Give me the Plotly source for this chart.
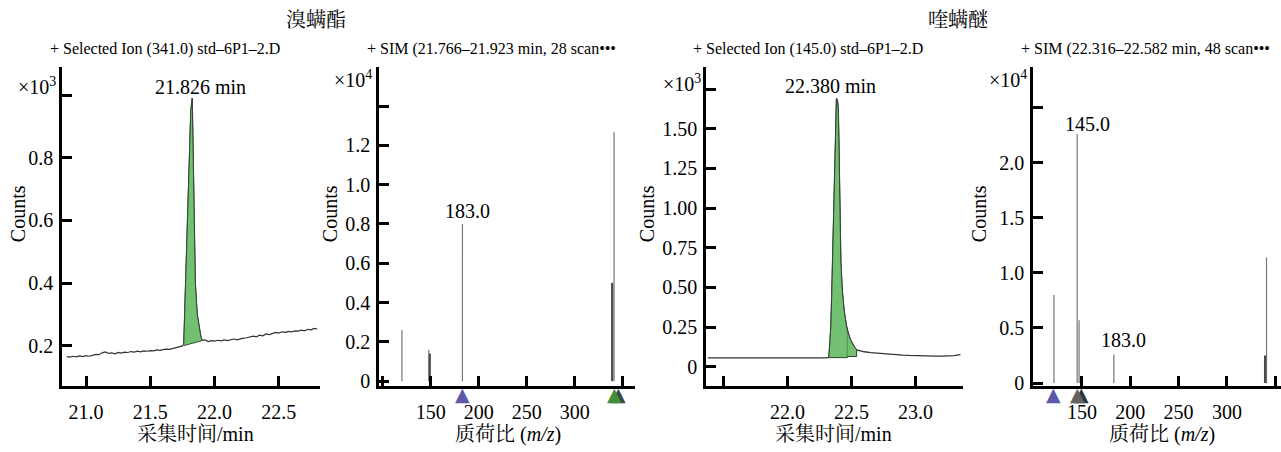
import plotly.graph_objects as go

W, H = 1281, 452

# ---------------- data ----------------
# Panel 1: 溴螨酯, selected ion 341.0 chromatogram (counts x10^3)
t1_pre = [20.850, 20.875, 20.900, 20.925, 20.950, 20.975, 21.000, 21.025, 21.050, 21.075,
          21.100, 21.125, 21.150, 21.175, 21.200, 21.225, 21.250, 21.275, 21.300, 21.325,
          21.350, 21.375, 21.400, 21.425, 21.450, 21.475, 21.500, 21.525, 21.550, 21.575,
          21.600, 21.625, 21.650, 21.675, 21.700, 21.725, 21.750]
c1_pre = [0.166, 0.164, 0.167, 0.165, 0.168, 0.166, 0.169, 0.167, 0.170, 0.173,
          0.172, 0.178, 0.181, 0.176, 0.178, 0.175, 0.179, 0.177, 0.180, 0.179,
          0.182, 0.180, 0.183, 0.181, 0.184, 0.183, 0.185, 0.184, 0.187, 0.186,
          0.188, 0.190, 0.189, 0.192, 0.194, 0.197, 0.200]
t1_peak = [21.760, 21.775, 21.790, 21.800, 21.815, 21.826, 21.835, 21.840, 21.850, 21.865,
           21.880, 21.895, 21.905]
c1_peak = [0.205, 0.400, 0.620, 0.800, 0.950, 0.990, 0.800, 0.600, 0.400, 0.300,
           0.255, 0.225, 0.218]
t1_post = [21.925, 21.950, 21.975, 22.000, 22.025, 22.050, 22.075, 22.100, 22.125, 22.150,
           22.175, 22.200, 22.225, 22.250, 22.275, 22.300, 22.325, 22.350, 22.375, 22.400,
           22.425, 22.450, 22.475, 22.500, 22.525, 22.550, 22.575, 22.600, 22.625, 22.650,
           22.675, 22.700, 22.725, 22.750, 22.775, 22.800]
c1_post = [0.219, 0.214, 0.217, 0.215, 0.218, 0.216, 0.219, 0.217, 0.220, 0.222,
           0.219, 0.223, 0.225, 0.226, 0.228, 0.231, 0.229, 0.234, 0.232, 0.238,
           0.236, 0.240, 0.243, 0.241, 0.245, 0.243, 0.246, 0.245, 0.248, 0.247,
           0.250, 0.248, 0.253, 0.251, 0.256, 0.254]
base1_t = [21.760, 21.905]
base1_c = [0.201, 0.217]

# Panel 2: 溴螨酯 SIM spectrum (counts x10^4)
mz2 = [120.0, 148.0, 149.0, 183.0, 339.0, 341.0]
int2 = [0.26, 0.16, 0.14, 0.80, 0.50, 1.27]
dark2 = [False, False, True, False, True, False]

# Panel 3: 喹螨醚, selected ion 145.0 chromatogram (counts x10^3)
t3_pre = [21.38, 21.45, 21.50, 21.55, 21.60, 21.65, 21.70, 21.75, 21.80, 21.85,
          21.90, 21.95, 22.00, 22.05, 22.10, 22.15, 22.20, 22.25, 22.30]
c3_pre = [0.056, 0.055, 0.056, 0.055, 0.055, 0.056, 0.055, 0.056, 0.055, 0.055,
          0.056, 0.055, 0.055, 0.056, 0.055, 0.055, 0.056, 0.055, 0.056]
t3_peak = [22.323, 22.332, 22.339, 22.346, 22.352, 22.360, 22.368, 22.377, 22.383, 22.390,
           22.397, 22.401, 22.406, 22.412, 22.417, 22.428, 22.443, 22.460, 22.468, 22.477,
           22.492, 22.508, 22.525, 22.540]
c3_peak = [0.058, 0.150, 0.250, 0.450, 0.660, 0.980, 1.280, 1.580, 1.690, 1.680,
           1.620, 1.450, 1.070, 0.850, 0.660, 0.480, 0.350, 0.260, 0.230, 0.206,
           0.170, 0.144, 0.120, 0.106]
t3_post = [22.575, 22.600, 22.650, 22.700, 22.750, 22.800, 22.850, 22.900, 22.950, 23.000,
           23.050, 23.100, 23.150, 23.200, 23.250, 23.300, 23.350]
c3_post = [0.098, 0.094, 0.089, 0.085, 0.081, 0.078, 0.076, 0.073, 0.071, 0.069,
           0.068, 0.067, 0.067, 0.067, 0.068, 0.070, 0.076]
split3 = 22.468
base3a = 0.057
base3b = 0.064

# Panel 4: 喹螨醚 SIM spectrum (counts x10^4)
mz4 = [121.0, 145.0, 147.0, 183.0, 339.5, 341.0]
int4 = [0.80, 2.26, 0.57, 0.26, 0.25, 1.14]
dark4 = [False, False, False, False, True, False]

# markers under the spectra: (m/z, fill colour, shadow colour)
tri2 = [(183.0, "#5a5aa8", None), (341.0, "#3f8f3f", "#444444")]
tri4 = [(121.0, "#5a5aa8", None), (145.0, "#626262", "#333333")]

titles = ["溴螨酯", "喹螨醚"]
subtitles = ["+ Selected Ion (341.0) std–6P1–2.D",
             "+ SIM (21.766–21.923 min, 28 scan•••",
             "+ Selected Ion (145.0) std–6P1–2.D",
             "+ SIM (22.316–22.582 min, 48 scan•••"]

# ---------------- figure ----------------
SERIF = "Liberation Serif, Noto Serif CJK SC, Noto Sans CJK SC, serif"
GREEN = "#72c172"
LINE = "#3a3030"


def px(x):
    return x / W


def py(y):
    return 1 - y / H


fig = go.Figure()

# Panel 1 traces
fig.add_trace(go.Scatter(x=t1_pre + t1_peak + t1_post, y=c1_pre + c1_peak + c1_post,
                         mode="lines", line=dict(color=LINE, width=1.2),
                         xaxis="x", yaxis="y", hoverinfo="skip"))
fig.add_trace(go.Scatter(x=t1_peak + base1_t[::-1], y=c1_peak + base1_c[::-1],
                         mode="lines", fill="toself", fillcolor=GREEN,
                         line=dict(color="#2f4a2f", width=1),
                         xaxis="x", yaxis="y", hoverinfo="skip"))

# Panel 3 traces
fig.add_trace(go.Scatter(x=t3_pre + t3_peak + t3_post, y=c3_pre + c3_peak + c3_post,
                         mode="lines", line=dict(color=LINE, width=1.3),
                         xaxis="x3", yaxis="y3", hoverinfo="skip"))
segA = [(t, c) for t, c in zip(t3_peak, c3_peak) if t <= split3]
segB = [(t, c) for t, c in zip(t3_peak, c3_peak) if t >= split3]
for seg, b in ((segA, base3a), (segB, base3b)):
    xs = [s[0] for s in seg]
    ys = [s[1] for s in seg]
    fig.add_trace(go.Scatter(x=xs + [xs[-1], xs[0]], y=ys + [b, b],
                             mode="lines", fill="toself", fillcolor=GREEN,
                             line=dict(color="#2f4a2f", width=1),
                             xaxis="x3", yaxis="y3", hoverinfo="skip"))


def sticks(mz, inten, dark, xa, ya):
    for want_dark in (False, True):
        xs, ys = [], []
        for m, v, d in zip(mz, inten, dark):
            if d == want_dark:
                xs += [m, m, None]
                ys += [0, v, None]
        if xs:
            fig.add_trace(go.Scatter(x=xs, y=ys, mode="lines",
                                     line=dict(color="#4a4a4a" if want_dark else "#777777",
                                               width=2.2 if want_dark else 1.2),
                                     xaxis=xa, yaxis=ya, hoverinfo="skip"))


sticks(mz2, int2, dark2, "x2", "y2")
sticks(mz4, int4, dark4, "x4", "y4")

axis_common = dict(showline=True, linecolor="black", linewidth=2.5, ticks="inside",
                   ticklen=10, tickwidth=2.5, tickcolor="black", showgrid=False,
                   zeroline=False, tickfont=dict(family=SERIF, size=20, color="black"),
                   fixedrange=True)

panels = [
    # (x domain px, xrange, xticks, xtext, yrange, yticks, ytext)
    ((62, 320), [20.813, 22.82], [21.0, 21.5, 22.0, 22.5], ["21.0", "21.5", "22.0", "22.5"],
     [0.072, 1.09], [0.2, 0.4, 0.6, 0.8, 1.0], ["0.2", "0.4", "0.6", "0.8", ""]),
    ((379, 635), [96.1, 362.8], [100, 150, 200, 250, 300, 350], ["", "150", "200", "250", "300", ""],
     [-0.025, 1.6], [0, 0.2, 0.4, 0.6, 0.8, 1.0, 1.2, 1.4],
     ["0", "0.2", "0.4", "0.6", "0.8", "1.0", "1.2", ""]),
    ((706, 963), [21.365, 23.37], [21.5, 22.0, 22.5, 23.0], ["", "22.0", "22.5", "23.0"],
     [-0.122, 1.89], [0, 0.25, 0.5, 0.75, 1.0, 1.25, 1.5, 1.75],
     ["0", "0.25", "0.50", "0.75", "1.00", "1.25", "1.50", ""]),
    ((1033, 1281), [99.3, 356.0], [100, 150, 200, 250, 300, 350], ["", "150", "200", "250", "300", ""],
     [-0.027, 2.87], [0, 0.5, 1.0, 1.5, 2.0, 2.5], ["0", "0.5", "1.0", "1.5", "2.0", ""]),
]

layout = dict(width=W, height=H, margin=dict(l=0, r=0, t=0, b=0),
              paper_bgcolor="white", plot_bgcolor="white", showlegend=False,
              font=dict(family=SERIF, color="black"))
for i, (dom, xr, xt, xtt, yr, yt, ytt) in enumerate(panels, start=1):
    sx = "" if i == 1 else str(i)
    layout["xaxis" + sx] = dict(domain=[px(dom[0]), px(dom[1])], range=xr, tickvals=xt,
                                ticktext=xtt, anchor="y" + sx, ticklabelstandoff=6,
                                **axis_common)
    layout["yaxis" + sx] = dict(domain=[py(393), py(68)], range=yr, tickvals=yt,
                                ticktext=ytt, anchor="x" + sx, ticklabelstandoff=2,
                                **axis_common)
fig.update_layout(**layout)

ann = []


def text(x, y, s, size, **kw):
    ann.append(dict(x=px(x), y=py(y), xref="paper", yref="paper", text=s, showarrow=False,
                    xanchor="center", yanchor="middle",
                    font=dict(family=SERIF, size=size, color="black"), **kw))


# main titles
text(316, 20, titles[0], 20)
text(958, 20, titles[1], 20)
# subtitles
for cx, s in zip([165, 491, 808, 1145], subtitles):
    text(cx, 50, s, 16)
# axis titles
for cx in [195, 834]:
    text(cx, 442, "采集时间/min", 20)
for cx in [508, 1162]:
    text(cx, 442, "质荷比 (<i>m/z</i>)", 20)
for cx in [18, 330, 647, 979]:
    text(cx, 218, "Counts", 20, textangle=-90)
# exponent labels
text(37, 88, "×10<sup>3</sup>", 20)
text(353, 80, "×10<sup>4</sup>", 20)
text(682, 85, "×10<sup>3</sup>", 20)
text(1008, 80, "×10<sup>4</sup>", 20)


def peak_label(xa, ya, x, y, s, xshift, yshift):
    ann.append(dict(x=x, y=y, xref=xa, yref=ya, text=s, showarrow=False,
                    xanchor="center", yanchor="bottom", xshift=xshift, yshift=yshift,
                    font=dict(family=SERIF, size=20, color="black")))


peak_label("x", "y", 21.826, 0.99, "21.826 min", 8, -2)
peak_label("x3", "y3", 22.38, 1.69, "22.380 min", -6, 0)
peak_label("x2", "y2", 183.0, 0.80, "183.0", 5, 0)
peak_label("x4", "y4", 145.0, 2.26, "145.0", 10, -3)
peak_label("x4", "y4", 183.0, 0.26, "183.0", 10, 1)


def triangles(tris, xa, ya, yshift):
    for m, col, shadow in tris:
        if shadow:
            ann.append(dict(x=m, y=0, xref=xa, yref=ya, text="▲", showarrow=False,
                            xanchor="center", yanchor="top", xshift=4, yshift=yshift,
                            font=dict(family="DejaVu Sans", size=19, color=shadow)))
        ann.append(dict(x=m, y=0, xref=xa, yref=ya, text="▲", showarrow=False,
                        xanchor="center", yanchor="top", xshift=0, yshift=yshift,
                        font=dict(family="DejaVu Sans", size=19, color=col)))


triangles(tri2, "x2", "y2", 0)
triangles(tri4, "x4", "y4", 2)

fig.update_layout(annotations=ann)
fig.write_html("out.html")
